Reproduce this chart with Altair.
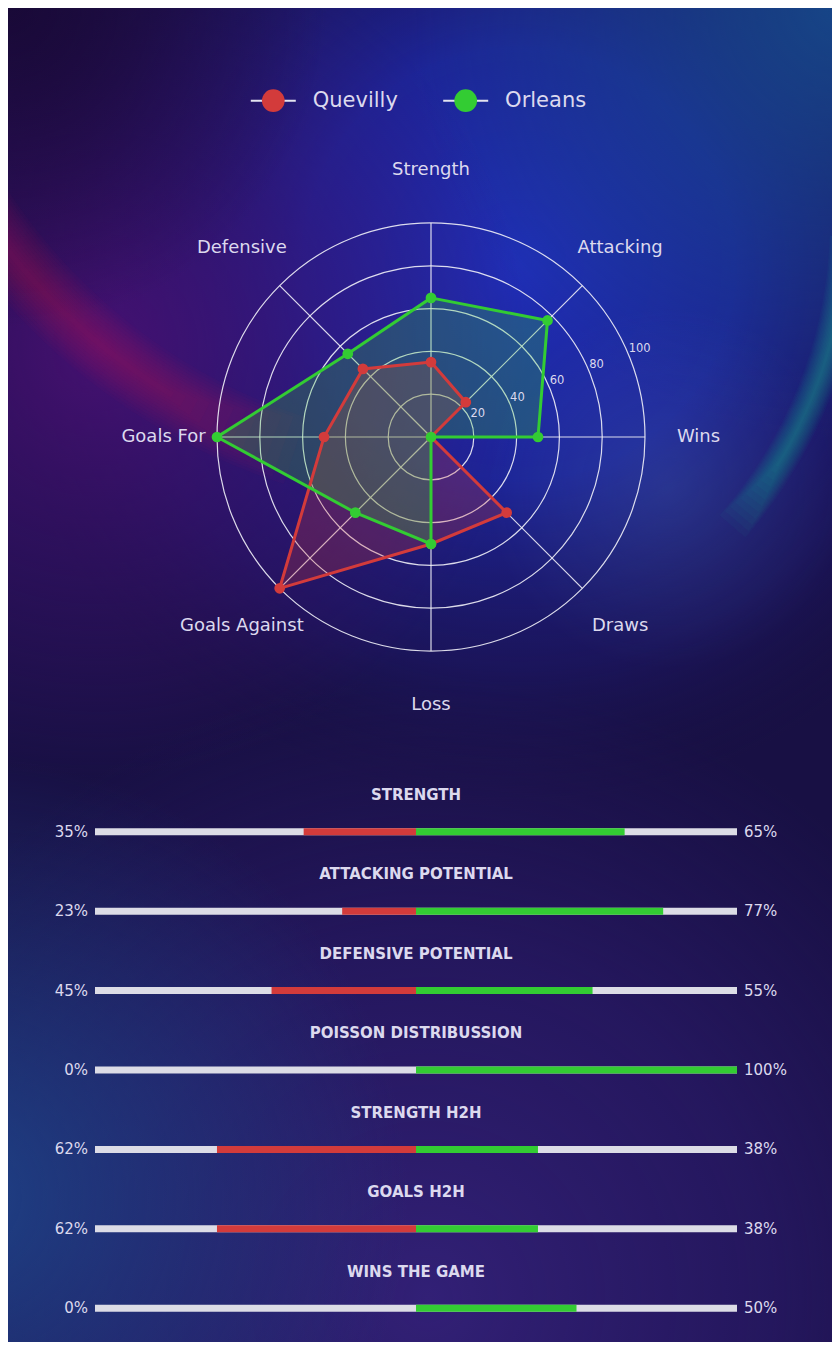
import math
import altair as alt
import pandas as pd

# ---------------- data ----------------
teams = ["Quevilly", "Orleans"]
team_colors = ["#d33b3b", "#33cc33"]

radar_axes = ["Strength", "Attacking", "Wins", "Draws", "Loss",
              "Goals Against", "Goals For", "Defensive"]
quevilly_vals = [35, 23, 0, 50, 50, 100, 50, 45]
orleans_vals = [65, 77, 50, 0, 50, 50, 100, 55]
ring_levels = [20, 40, 60, 80, 100]

metrics = ["STRENGTH", "ATTACKING POTENTIAL", "DEFENSIVE POTENTIAL",
           "POISSON DISTRIBUSSION", "STRENGTH H2H", "GOALS H2H", "WINS THE GAME"]
quevilly_pct = [35, 23, 45, 0, 62, 62, 0]
orleans_pct = [65, 77, 55, 100, 38, 38, 50]

# ---------------- layout / style ----------------
W, H = 824, 1334
CX, CY, R = 423, 429, 214          # radar centre and radius (px)
LABEL_R = 125                      # axis label distance (data units)
TICK_ANGLE = 67.5                  # radial tick label angle (deg, clockwise from top)
TXT = "#dcd9ee"
GRID = "#f0f0f8"
TRACK = "#dcdce6"
FONT = "DejaVu Sans"
BG = "#181044"
N = len(radar_axes)
RMAX = max(ring_levels)

one = pd.DataFrame({"k": [0]})


def radial(stops):
    return {"gradient": "radial", "x1": 0.5, "y1": 0.5, "r1": 0,
            "x2": 0.5, "y2": 0.5, "r2": 0.5,
            "stops": [{"offset": o, "color": c} for o, c in stops]}


def blob(cx, cy, r, stops):
    """Soft circular glow (square rect filled by a radial gradient)."""
    return alt.Chart(one).mark_rect(fill=radial(stops)).encode(
        x=alt.value(cx - r), x2=alt.value(cx + r),
        y=alt.value(cy - r), y2=alt.value(cy + r))


def glow(cx, cy, r, width, t0, t1, fade0, fade1, color, peak, n=12):
    """Soft curved light streak built from stacked thin arcs."""
    op = 1 - (1 - peak) ** (1.0 / n)
    out = []
    for i in range(n):
        w = width * (1 - i / n)
        a0 = t0 + fade0 * (i / n)
        a1 = t1 - fade1 * (i / n)
        out.append(alt.Chart(one).mark_arc(color=color, opacity=op).encode(
            x=alt.value(cx), y=alt.value(cy),
            theta=alt.value(math.radians(a0)), theta2=alt.value(math.radians(a1)),
            radius=alt.value(r + w / 2), radius2=alt.value(r - w / 2)))
    return out


bg_layers = [
    blob(511, 256, 540, [(0, "rgba(31,46,182,1)"), (0.4, "rgba(29,38,160,0.9)"),
                         (0.75, "rgba(30,26,118,0.45)"), (1, "rgba(24,16,68,0)")]),
    blob(830, 0, 430, [(0, "rgba(22,74,140,0.9)"), (1, "rgba(22,74,140,0)")]),
    blob(90, 340, 430, [(0, "rgba(80,16,120,0.8)"), (0.5, "rgba(62,16,112,0.5)"),
                        (1, "rgba(62,16,112,0)")]),
    blob(0, 0, 320, [(0, "rgba(24,8,52,0.85)"), (1, "rgba(24,8,52,0)")]),
    blob(660, 480, 180, [(0, "rgba(80,120,185,0.24)"), (1, "rgba(80,120,185,0)")]),
    blob(420, 1290, 620, [(0, "rgba(50,32,118,1)"), (0.55, "rgba(42,26,105,0.7)"),
                          (1, "rgba(40,24,100,0)")]),
    blob(-40, 1190, 440, [(0, "rgba(30,66,135,0.95)"), (1, "rgba(30,66,135,0)")]),
]
bg_layers += glow(472, -128, 600, 70, 198, 252, 14, 0, "#c0105a", 0.36)
bg_layers += glow(372, 212, 467, 34, 92, 131, 0, 10, "#25c58f", 0.38)
background = alt.layer(*bg_layers)

# ---------------- radar ----------------
xs = alt.Scale(domain=[-RMAX, RMAX], range=[CX - R, CX + R], nice=False, zero=False)
ys = alt.Scale(domain=[-RMAX, RMAX], range=[CY + R, CY - R], nice=False, zero=False)
ANG = f"datum.idx * 2 * PI / {N}"

axes_df = pd.DataFrame({"axis": radar_axes, "idx": list(range(N))})
axes_base = alt.Chart(axes_df).transform_calculate(
    z="0",
    sx=f"{RMAX} * sin({ANG})", sy=f"{RMAX} * cos({ANG})",
    lx=f"{LABEL_R} * sin({ANG})", ly=f"{LABEL_R} * cos({ANG})")

spokes = axes_base.mark_rule(color=GRID, strokeWidth=1.2, opacity=0.9).encode(
    x=alt.X("z:Q", scale=xs, axis=None), y=alt.Y("z:Q", scale=ys, axis=None),
    x2="sx:Q", y2="sy:Q")

axis_labels = axes_base.mark_text(fontSize=18, font=FONT, color=TXT,
                                  align="center", baseline="middle").encode(
    x=alt.X("lx:Q", scale=xs, axis=None), y=alt.Y("ly:Q", scale=ys, axis=None),
    text="axis:N")

rings_df = pd.DataFrame({"ring": ring_levels})
rings_base = alt.Chart(rings_df).transform_calculate(
    z="0",
    tx=f"datum.ring * sin({TICK_ANGLE} * PI / 180)",
    ty=f"datum.ring * cos({TICK_ANGLE} * PI / 180)")

rings = rings_base.mark_point(shape="circle", filled=False, color=GRID,
                              strokeWidth=1.2, opacity=0.9).encode(
    x=alt.X("z:Q", scale=xs, axis=None), y=alt.Y("z:Q", scale=ys, axis=None),
    size=alt.Size("ring:Q", scale=alt.Scale(type="pow", exponent=2,
                                            domain=[0, RMAX], range=[0, (2 * R) ** 2]),
                  legend=None))

tick_labels = rings_base.mark_text(fontSize=11.5, font=FONT, color=TXT,
                                   align="left", baseline="middle", dy=-6.5).encode(
    x=alt.X("tx:Q", scale=xs, axis=None), y=alt.Y("ty:Q", scale=ys, axis=None),
    text="ring:Q")

radar_df = pd.DataFrame({
    "team": [teams[0]] * N + [teams[1]] * N,
    "axis": radar_axes * 2,
    "idx": list(range(N)) * 2,
    "value": quevilly_vals + orleans_vals,
})


def team_base(team):
    return alt.Chart(radar_df).transform_filter(alt.datum.team == team).transform_calculate(
        px=f"datum.value * sin({ANG})", py=f"datum.value * cos({ANG})")


def enc():
    return dict(x=alt.X("px:Q", scale=xs, axis=None), y=alt.Y("py:Q", scale=ys, axis=None))


fills, outlines = [], []
for team, col in zip(teams, team_colors):
    b = team_base(team)
    fills.append(b.mark_line(interpolate="linear-closed", color=col, strokeOpacity=0,
                             fill=col, fillOpacity=0.25).encode(order=alt.Order("idx:Q"), **enc()))
    outlines.append(b.mark_line(interpolate="linear-closed", color=col, strokeWidth=3).encode(
        order=alt.Order("idx:Q"), **enc()))
    outlines.append(b.mark_point(filled=True, size=115, color=col, opacity=1).encode(**enc()))

radar = alt.layer(spokes, rings, *fills, *outlines, axis_labels, tick_labels)

# ---------------- legend ----------------
leg_df = pd.DataFrame({"team": teams})
LEG_Y = 92.7
lx = alt.X("team:N", scale=alt.Scale(type="point", domain=teams, range=[265.3, 457.7], padding=0),
           axis=None)
leg_line = alt.Chart(leg_df).mark_point(shape="M-1,0L1,0", size=2025, filled=False,
                                        color="#e4e4f0", strokeWidth=2, opacity=1).encode(
    x=lx, y=alt.value(LEG_Y))
leg_dot = alt.Chart(leg_df).mark_point(filled=True, size=515, opacity=1).encode(
    x=lx, y=alt.value(LEG_Y),
    color=alt.Color("team:N", scale=alt.Scale(domain=teams, range=team_colors), legend=None))
leg_txt = alt.Chart(leg_df).mark_text(align="left", baseline="middle", dx=39.4, fontSize=21,
                                      font=FONT, color=TXT).encode(
    x=lx, y=alt.value(LEG_Y), text="team:N")
legend = alt.layer(leg_line, leg_dot, leg_txt)

# ---------------- comparison bars ----------------
bars_df = pd.DataFrame({"metric": metrics, "home": quevilly_pct, "away": orleans_pct})
bx = alt.Scale(domain=[-100, 100], range=[87, 729], nice=False, zero=False)
by = alt.Scale(type="point", domain=metrics, range=[823.7, 1300.3], padding=0)
bbase = alt.Chart(bars_df).transform_calculate(
    lo="-100", hi="100", z="0", neg="-datum.home",
    ltxt="datum.home + '%'", rtxt="datum.away + '%'")
Y = alt.Y("metric:N", scale=by, axis=None)

track = bbase.mark_rule(strokeWidth=7, color=TRACK).encode(
    x=alt.X("lo:Q", scale=bx, axis=None), x2="hi:Q", y=Y)
red_bar = bbase.mark_rule(strokeWidth=7, color=team_colors[0]).encode(
    x=alt.X("neg:Q", scale=bx, axis=None), x2="z:Q", y=Y)
green_bar = bbase.mark_rule(strokeWidth=7, color=team_colors[1]).encode(
    x=alt.X("z:Q", scale=bx, axis=None), x2="away:Q", y=Y)
left_txt = bbase.mark_text(align="right", baseline="middle", dx=-7, fontSize=15,
                           font=FONT, color=TXT).encode(
    x=alt.X("lo:Q", scale=bx, axis=None), y=Y, text="ltxt:N")
right_txt = bbase.mark_text(align="left", baseline="middle", dx=7, fontSize=15,
                            font=FONT, color=TXT).encode(
    x=alt.X("hi:Q", scale=bx, axis=None), y=Y, text="rtxt:N")
titles = bbase.mark_text(align="center", baseline="middle", dy=-36.7, fontSize=15,
                         fontWeight="bold", font=FONT, color=TXT).encode(
    x=alt.X("z:Q", scale=bx, axis=None), y=Y, text="metric:N")
bars = alt.layer(track, red_bar, green_bar, left_txt, right_txt, titles)

chart = alt.layer(background, radar, legend, bars).resolve_scale(
    x="independent", y="independent"
).properties(
    width=W, height=H, padding=0,
    autosize=alt.AutoSizeParams(type="none"),
    background=BG,
).configure_view(stroke="transparent")

chart.save("out.html", embed_options={"renderer": "svg", "actions": False})
